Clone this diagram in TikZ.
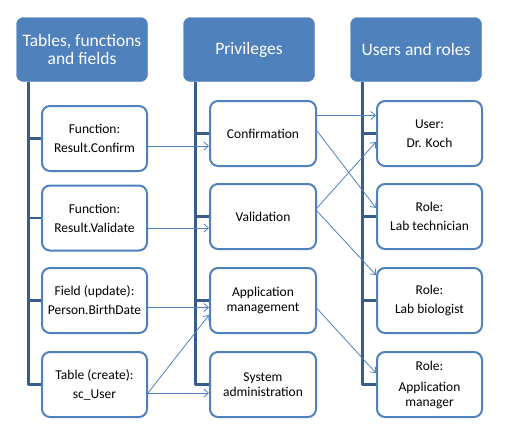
\documentclass[tikz,border=0pt]{standalone}
\usepackage{fontspec}
\setmainfont{Carlito}
\usepackage{xcolor}
\definecolor{head-blue}{RGB}{79,129,189}
\definecolor{tree-blue}{RGB}{56,93,138}
\usetikzlibrary{arrows.meta}

\begin{document}
\begin{tikzpicture}[x=1pt,y=-1pt,
	header/.style={fill=head-blue,draw=head-blue,rounded corners=7pt,text=white,
		minimum width=131pt,minimum height=64pt,align=center,
		font=\fontsize{17.5}{18.5}\selectfont},
	item/.style={draw=head-blue,line width=2pt,fill=white,rounded corners=8pt,
		minimum width=105pt,minimum height=65pt,align=center,
		font=\fontsize{13.5}{15}\selectfont},
	tree/.style={draw=tree-blue,line width=2.4pt},
	link/.style={draw=head-blue,line width=0.8pt,
		-{Straight Barb[length=4.5pt,width=8pt]}}
	]
	\useasboundingbox (0,0) rectangle (510,434);
	
	% column headers
	\node[header] (f0) at (82,49.5) {Tables, functions\\and fields};
	\node[header] (p0) at (249,49.5) {Privileges};
	\node[header] (u0) at (416,49.5) {Users and roles};
	
	% tables, functions and fields
	\node[item] (f1) at (94.5,138.5) {Function:\\[4pt]Result.Confirm};
	\node[item] (f2) at (94.5,218) {Function:\\[4pt]Result.Validate};
	\node[item] (f3) at (94.5,300.5) {Field (update):\\[4pt]Person.BirthDate};
	\node[item] (f4) at (94.5,384.5) {Table (create):\\[4pt]sc\_User};
	
	% privileges
	\node[item,minimum width=106pt] (p1) at (263,133.5) {Confirmation};
	\node[item,minimum width=106pt] (p2) at (263,216.5) {Validation};
	\node[item,minimum width=106pt] (p3) at (263,300.5) {Application\\management};
	\node[item,minimum width=106pt] (p4) at (263,384.5) {System\\administration};
	
	% users and roles
	\node[item] (u1) at (429.5,133.5) {User:\\[4pt]Dr. Koch};
	\node[item] (u2) at (429.5,216.5) {Role:\\[4pt]Lab technician};
	\node[item] (u3) at (429.5,300.5) {Role:\\[4pt]Lab biologist};
	\node[item] (u4) at (429.5,384.5) {Role:\\[6pt]Application\\manager};
	
	% tree lines
	\foreach \col in {f,p,u}{
		\coordinate (\col-top) at ([xshift=12pt]\col0.south west);
		\draw[tree] (\col-top) -- (\col-top |- \col4.west);
		\foreach \i in {1,...,4}{
			\draw[tree] (\col-top |- \col\i.west) -- (\col\i.west);
		}
	}
	
	% assignments
	\draw[link] ([yshift=-7.5pt]f1.east) -- ([yshift=-7.5pt]f1.east -| p1.west);
	\draw[link] ([yshift=-10pt]f2.east) -- ([yshift=-10pt]f2.east -| p2.west);
	\draw[link] ([yshift=-7pt]f3.east) -- ([yshift=-7pt]f3.east -| p3.west);
	\draw[link] ([yshift=-8.5pt]f4.east) -- ([yshift=-8.5pt]f4.east -| p4.west);
	\draw[link] ([yshift=-8.5pt]f4.east) -- ([yshift=-14.5pt]p3.west);
	
	\draw[link] ([yshift=18pt]p1.east) -- ([yshift=18pt]p1.east -| u1.west);
	\draw[link] ([yshift=2.5pt]p1.east) -- ([yshift=8.5pt]u2.west);
	\draw[link] ([yshift=8.5pt]p2.east) -- ([yshift=-8.5pt]u1.west);
	\draw[link] ([yshift=5.5pt]p2.east) -- ([yshift=25.5pt]u3.west);
	\draw[link] ([yshift=-8pt]p3.east) -- ([yshift=11.5pt]u4.west);
	
\end{tikzpicture}
\end{document}
